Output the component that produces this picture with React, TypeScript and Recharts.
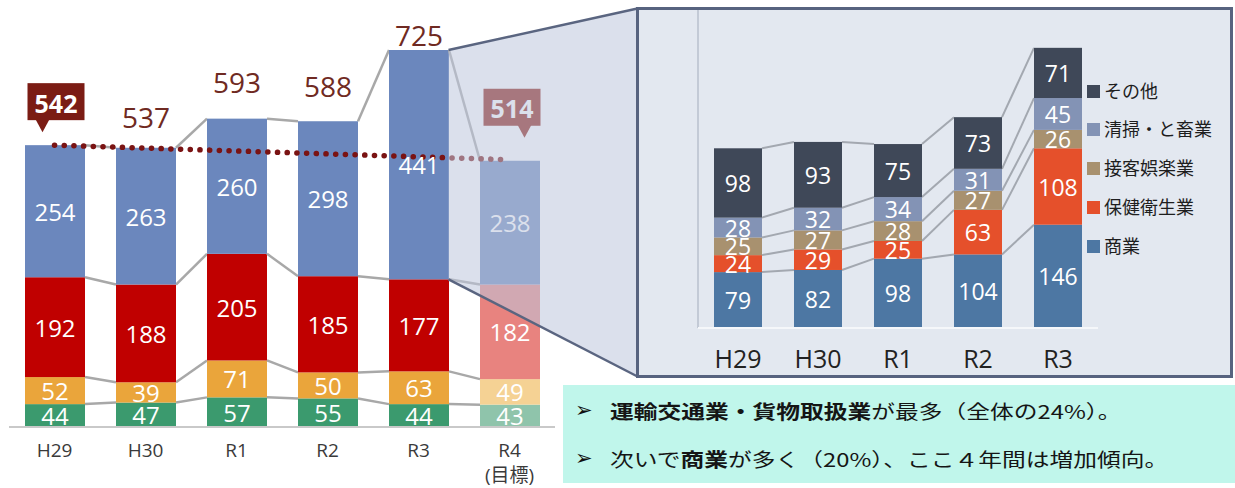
import React from 'react';
import { ComposedChart, BarChart, Bar, Line, XAxis, YAxis, LabelList } from 'recharts';

// ---------------- data ----------------
const leftCategories = ['H29', 'H30', 'R1', 'R2', 'R3', 'R4'];
const leftSubLabels = ['', '', '', '', '', '(目標)'];
const seriesGreen = [44, 47, 57, 55, 44, 43];
const seriesYellow = [52, 39, 71, 50, 63, 49];
const seriesRed = [192, 188, 205, 185, 177, 182];
const seriesBlue = [254, 263, 260, 298, 441, 238];
const leftTotals = [542, 537, 593, 588, 725, 514];
const trendValues: (number | null)[] = [542, null, null, null, null, 514];

const rightCategories = ['H29', 'H30', 'R1', 'R2', 'R3'];
const rightSeriesNames = ['商業', '保健衛生業', '接客娯楽業', '清掃・と畜業', 'その他'];
const shougyou = [79, 82, 98, 104, 146];
const hokenEisei = [24, 29, 25, 63, 108];
const sekkyakuGoraku = [25, 27, 28, 27, 26];
const seisouTochiku = [28, 32, 34, 31, 45];
const sonota = [98, 93, 75, 73, 71];

const bulletLines = [
  { pre: '', bold: '運輸交通業・貨物取扱業', rest: 'が最多（全体の24%）。' },
  { pre: '次いで', bold: '商業', rest: 'が多く（20%）、ここ４年間は増加傾向。' },
];

// ---------------- styles / layout ----------------
const FONT = "'Open Sans', 'Noto Sans CJK JP', sans-serif";
const JP_FONT = "'Noto Sans CJK JP', sans-serif";

const L_W = 555, L_H = 488;
const L_ML = 9, L_BAND = 91, L_BAR = 60, L_TOP = 11, L_PLOT_H = 416, L_MAX = 800;
const L_BASE = L_TOP + L_PLOT_H;
const L_PPU = L_PLOT_H / L_MAX;

const C_GREEN = '#3b9a6e', C_YELLOW = '#eaa53b', C_RED = '#c00000', C_BLUE = '#6b87bd';
const F_GREEN = '#8fc4ab', F_YELLOW = '#f5d294', F_RED = '#e8837f', F_BLUE = '#6b87bd';
const totalLift = [0, 31, 37, 35, 15, 0];

const R_LEFT = 636, R_TOP = 7, R_W = 597, R_H = 371;
const R_ML = 62, R_BAND = 80, R_BAR = 48, R_MT = 38, R_PLOT_H = 283, R_MAX = 400;
const R_XH = R_H - R_MT - R_PLOT_H;
const rightColors = ['#4d77a3', '#e5502b', '#a8916f', '#8393b5', '#3f4858'];

// ---------------- helpers ----------------
const cumulate = (arrs: number[][]) => {
  const out: number[][] = [];
  arrs.forEach((a, k) => out.push(a.map((v, i) => v + (k > 0 ? out[k - 1][i] : 0))));
  return out;
};

const leftSeries = [seriesGreen, seriesYellow, seriesRed, seriesBlue];
const leftCum = cumulate(leftSeries);
const rightSeries = [shougyou, hokenEisei, sekkyakuGoraku, seisouTochiku, sonota];
const rightCum = cumulate(rightSeries);

const leftData = leftCategories.map((cat, i) => ({
  cat,
  green: seriesGreen[i],
  yellow: seriesYellow[i],
  red: seriesRed[i],
  blue: seriesBlue[i],
  total: leftTotals[i],
  trend: trendValues[i],
}));

const rightData = rightCategories.map((cat, i) => ({
  cat,
  s0: shougyou[i],
  s1: hokenEisei[i],
  s2: sekkyakuGoraku[i],
  s3: seisouTochiku[i],
  s4: sonota[i],
}));

function makeShape(
  cats: string[],
  own: number[],
  cumTop: number[],
  colors: string[],
  band: number,
  lineColor: string,
  lineW: number
) {
  return (props: any) => {
    const { x, y, width, height } = props;
    let i = cats.indexOf(props?.payload?.cat);
    if (i < 0) i = typeof props.index === 'number' ? props.index : 0;
    const ppu = height / own[i];
    const nextY = i + 1 < own.length ? y - (cumTop[i + 1] - cumTop[i]) * ppu : null;
    return (
      <g>
        <rect x={x} y={y} width={width} height={height} fill={colors[i]} />
        {nextY !== null && (
          <line x1={x + width} y1={y} x2={x + band} y2={nextY} stroke={lineColor} strokeWidth={lineW} />
        )}
      </g>
    );
  };
}

const innerLabel = (fontSize: number, color = '#ffffff') => (props: any) => {
  const { x, y, width, height, value } = props;
  return (
    <text
      x={x + width / 2}
      y={y + height / 2}
      textAnchor="middle"
      dominantBaseline="central"
      fill={color}
      fontSize={fontSize}
      fontFamily={FONT}
    >
      {value}
    </text>
  );
};

const renderTotal = (props: any) => {
  const { x, y, width, value } = props;
  const i = leftTotals.indexOf(Number(value));
  const cx = x + width / 2;
  if (i === 0 || i === leftTotals.length - 1) {
    const isTarget = i === leftTotals.length - 1;
    const bw = 57, bh = 37;
    const bx = cx - bw / 2 + (isTarget ? 2 : 1);
    const by = y - (isTarget ? 72 : 62);
    const tipX = bx + (isTarget ? 41 : 15);
    const fill = isTarget ? '#8c180c' : '#7b1c14';
    return (
      <g>
        <rect x={bx} y={by} width={bw} height={bh} fill={fill} />
        <polygon points={`${tipX - 7},${by + bh - 1} ${tipX + 7},${by + bh - 1} ${tipX},${by + bh + 12}`} fill={fill} />
        <text
          x={bx + bw / 2}
          y={by + bh / 2 + 1}
          textAnchor="middle"
          dominantBaseline="central"
          fill="#ffffff"
          fontSize={25}
          fontWeight={700}
          fontFamily={FONT}
        >
          {value}
        </text>
      </g>
    );
  }
  return (
    <text
      x={cx}
      y={y - totalLift[i]}
      textAnchor="middle"
      dominantBaseline="central"
      fill="#6f2a22"
      fontSize={28}
      fontFamily={FONT}
    >
      {value}
    </text>
  );
};

const LeftTick = (props: any) => {
  const { x, y, payload } = props;
  const i = leftCategories.indexOf(payload.value);
  return (
    <g>
      <text x={x} y={y + 23} textAnchor="middle" dominantBaseline="central" fill="#3a3a3a" fontSize={19} fontFamily={FONT}>
        {payload.value}
      </text>
      {leftSubLabels[i] && (
        <text x={x} y={y + 48} textAnchor="middle" dominantBaseline="central" fill="#3a3a3a" fontSize={19} fontFamily={FONT}>
          {leftSubLabels[i]}
        </text>
      )}
    </g>
  );
};

const RightTick = (props: any) => {
  const { x, y, payload } = props;
  return (
    <text x={x} y={y + 30} textAnchor="middle" dominantBaseline="central" fill="#222222" fontSize={25} fontFamily={FONT}>
      {payload.value}
    </text>
  );
};

export default function App() {
  const leftColorArrays = [
    [...Array(5).fill(C_GREEN), F_GREEN],
    [...Array(5).fill(C_YELLOW), F_YELLOW],
    [...Array(5).fill(C_RED), F_RED],
    [...Array(5).fill(C_BLUE), F_BLUE],
  ];
  const leftKeys = ['green', 'yellow', 'red', 'blue'];

  // callout geometry derived from the left chart scale
  const r3 = 4;
  const r3Right = L_ML + L_BAND * r3 + (L_BAND - L_BAR) / 2 + L_BAR;
  const r3Top = L_BASE - leftCum[3][r3] * L_PPU;
  const r3RedTop = L_BASE - leftCum[2][r3] * L_PPU;
  const pTop = R_TOP + 1.5;
  const pBottom = R_TOP + R_H - 1.5;
  const pLeft = R_LEFT + 1.5;

  const legendItems = rightSeriesNames.map((n, k) => ({ name: n, color: rightColors[k] })).reverse();
  const legendY = [90, 128, 167, 206, 245];

  return (
    <div style={{ position: 'absolute', left: 0, top: 0, width: 1235, height: 488, background: '#ffffff', fontFamily: FONT, overflow: 'hidden' }}>
      {/* left chart */}
      <div style={{ position: 'absolute', left: 0, top: 0 }}>
        <ComposedChart width={L_W} height={L_H} data={leftData} margin={{ top: L_TOP, right: L_W - L_ML - L_BAND * 6, bottom: 0, left: L_ML }}>
          <XAxis
            dataKey="cat"
            height={L_H - L_BASE}
            tickLine={false}
            tickSize={0}
            tickMargin={0}
            axisLine={{ stroke: '#c9c9c9', strokeWidth: 2 }}
            tick={<LeftTick />}
            interval={0}
          />
          <YAxis hide domain={[0, L_MAX]} />
          {leftKeys.map((k, s) => (
            <Bar
              key={k}
              dataKey={k}
              stackId="a"
              barSize={L_BAR}
              isAnimationActive={false}
              shape={makeShape(leftCategories, leftSeries[s], leftCum[s], leftColorArrays[s], L_BAND, '#a8a8a8', 2.5)}
            >
              <LabelList dataKey={k} content={innerLabel(24)} />
              {k === 'blue' && <LabelList dataKey="total" content={renderTotal} />}
            </Bar>
          ))}
          <Line
            dataKey="trend"
            connectNulls
            stroke="#7a1313"
            strokeWidth={5.5}
            strokeDasharray="0.1 9.6"
            strokeLinecap="round"
            dot={false}
            activeDot={false}
            isAnimationActive={false}
          />
        </ComposedChart>
      </div>

      {/* callout overlay */}
      <svg width={1235} height={488} style={{ position: 'absolute', left: 0, top: 0, pointerEvents: 'none' }}>
        <polygon
          points={`${r3Right},${r3Top} ${pLeft},${pTop} ${pLeft},${pBottom} ${r3Right},${r3RedTop}`}
          fill="rgb(190,199,220)"
          fillOpacity={0.55}
        />
        <line x1={r3Right} y1={r3Top} x2={pLeft} y2={pTop} stroke="#5a6580" strokeWidth={2.5} />
        <line x1={r3Right} y1={r3RedTop} x2={pLeft} y2={pBottom} stroke="#5a6580" strokeWidth={2.5} />
      </svg>

      {/* right panel */}
      <div
        style={{
          position: 'absolute',
          left: R_LEFT,
          top: R_TOP,
          width: R_W,
          height: R_H,
          boxSizing: 'border-box',
          border: '3px solid #57637f',
          background: '#e3e8f0',
        }}
      />
      <div style={{ position: 'absolute', left: R_LEFT + R_ML - 1, top: R_TOP + 3, width: 1.5, height: R_MT + R_PLOT_H - 3, background: '#c3cad6' }} />
      <div style={{ position: 'absolute', left: R_LEFT, top: R_TOP }}>
        <BarChart width={R_W} height={R_H} data={rightData} margin={{ top: R_MT, right: R_W - R_ML - R_BAND * 5, bottom: 0, left: R_ML }}>
          <XAxis
            dataKey="cat"
            height={R_XH}
            tickLine={false}
            tickSize={0}
            tickMargin={0}
            axisLine={{ stroke: '#f5f7fa', strokeWidth: 2 }}
            tick={<RightTick />}
            interval={0}
          />
          <YAxis hide domain={[0, R_MAX]} />
          {rightSeries.map((arr, s) => (
            <Bar
              key={s}
              dataKey={`s${s}`}
              name={rightSeriesNames[s]}
              stackId="r"
              barSize={R_BAR}
              isAnimationActive={false}
              shape={makeShape(rightCategories, arr, rightCum[s], Array(5).fill(rightColors[s]), R_BAND, '#a3a8b0', 2)}
            >
              <LabelList dataKey={`s${s}`} content={innerLabel(23)} />
            </Bar>
          ))}
        </BarChart>
      </div>

      {/* legend */}
      {legendItems.map((it, k) => (
        <div key={it.name} style={{ position: 'absolute', left: 1087, top: legendY[k] - 12, height: 24, display: 'flex', alignItems: 'center' }}>
          <div style={{ width: 13, height: 13, background: it.color, marginRight: 4, marginTop: 3 }} />
          <span style={{ fontFamily: JP_FONT, fontSize: 18, color: '#1e1e1e', whiteSpace: 'nowrap' }}>{it.name}</span>
        </div>
      ))}

      {/* text box */}
      <div style={{ position: 'absolute', left: 563, top: 385, width: 672, height: 98, background: '#c0f6eb' }} />
      {bulletLines.map((ln, k) => (
        <div key={k} style={{ position: 'absolute', left: 575, top: (k === 0 ? 410 : 458) - 15, height: 30, display: 'flex', alignItems: 'center', whiteSpace: 'nowrap' }}>
          <span style={{ fontFamily: "'DejaVu Sans', sans-serif", fontSize: 21, color: '#111', width: 35, lineHeight: '30px' }}>➢</span>
          <span style={{ fontFamily: JP_FONT, fontSize: 19, color: '#151515', display: 'inline-block', transform: 'scaleX(1.25)', transformOrigin: 'left center' }}>
            {ln.pre}
            <b style={{ fontWeight: 700 }}>{ln.bold}</b>
            {ln.rest}
          </span>
        </div>
      ))}
    </div>
  );
}
